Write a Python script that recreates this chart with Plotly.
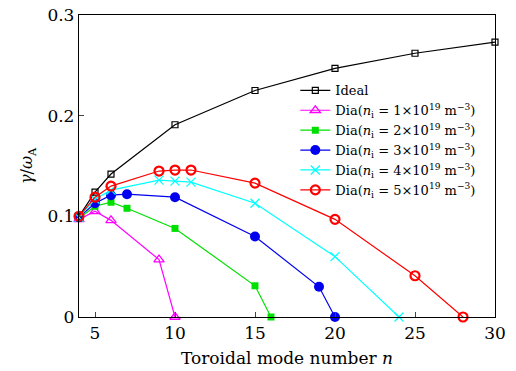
import plotly.graph_objects as go

n_ideal = [4, 5, 6, 10, 15, 20, 25, 30]
g_ideal = [0.100, 0.124, 0.142, 0.191, 0.225, 0.247, 0.262, 0.273]

n_d1 = [4, 5, 6, 9, 10]
g_d1 = [0.097, 0.105, 0.096, 0.057, 0.0]

n_d2 = [4, 5, 6, 7, 10, 15, 16]
g_d2 = [0.098, 0.110, 0.114, 0.108, 0.088, 0.031, 0.0]

n_d3 = [4, 5, 6, 7, 10, 15, 19, 20]
g_d3 = [0.099, 0.113, 0.121, 0.122, 0.119, 0.080, 0.030, 0.0]

n_d4 = [4, 5, 6, 9, 10, 11, 15, 20, 24]
g_d4 = [0.099, 0.117, 0.126, 0.136, 0.135, 0.134, 0.113, 0.060, 0.0]

n_d5 = [4, 5, 6, 9, 10, 11, 15, 20, 25, 28]
g_d5 = [0.100, 0.119, 0.130, 0.145, 0.146, 0.146, 0.133, 0.097, 0.041, 0.0]

x_ticks = [5, 10, 15, 20, 25, 30]
y_ticks = [0, 0.1, 0.2, 0.3]
y_tick_text = ["0", "0.1", "0.2", "0.3"]

def dia(k):
    return "Dia(<i>n</i><sub>i</sub> = %d×10<sup>19</sup> m<sup>−3</sup>)" % k

series = [
    ("Ideal", n_ideal, g_ideal, "#000000", dict(symbol="square-open", size=6, line=dict(width=1.2))),
    (dia(1), n_d1, g_d1, "#ff00ff", dict(symbol="triangle-up-open", size=9, line=dict(width=1.3))),
    (dia(2), n_d2, g_d2, "#00e000", dict(symbol="square", size=7)),
    (dia(3), n_d3, g_d3, "#0000ee", dict(symbol="circle", size=10)),
    (dia(4), n_d4, g_d4, "#00ffff", dict(symbol="x-thin-open", size=9, line=dict(width=1.3, color="#00ffff"))),
    (dia(5), n_d5, g_d5, "#ff0000", dict(symbol="circle-open", size=9, line=dict(width=2.2))),
]

fig = go.Figure()
for name, xs, ys, col, mk in series:
    mk = dict(mk)
    mk["color"] = col
    fig.add_trace(go.Scatter(x=xs, y=ys, name=name, mode="lines+markers",
                             line=dict(color=col, width=1.2), marker=mk, cliponaxis=False))

fig.update_layout(
    width=516, height=371,
    margin=dict(l=79, r=21, t=15, b=54),
    paper_bgcolor="white", plot_bgcolor="white",
    font=dict(family="DejaVu Serif", size=16, color="#000"),
    showlegend=True,
    legend=dict(x=0.52, y=0.80, xanchor="left", yanchor="top",
                bgcolor="rgba(0,0,0,0)", font=dict(size=13),
                tracegroupgap=0, itemwidth=30),
    xaxis=dict(range=[4, 30], tickvals=x_ticks, ticks="inside", ticklen=5,
               showline=True, mirror=True, linecolor="#000", linewidth=1.3,
               showgrid=False, zeroline=False, automargin=False,
               tickfont=dict(size=17),
               title=dict(text="Toroidal mode number <i>n</i>", standoff=10, font=dict(size=17))),
    yaxis=dict(range=[0, 0.3], tickvals=y_ticks, ticktext=y_tick_text, ticks="inside", ticklen=5,
               showline=True, mirror=True, linecolor="#000", linewidth=1.3,
               showgrid=False, zeroline=False, automargin=False,
               tickfont=dict(size=17),
               title=dict(text="<i>γ</i>/<i>ω</i><sub>A</sub>", standoff=10, font=dict(size=16))),
)

fig.write_html("out.html", config={"displayModeBar": False},
               post_script="document.body.style.margin='0';document.body.style.overflow='hidden';")
